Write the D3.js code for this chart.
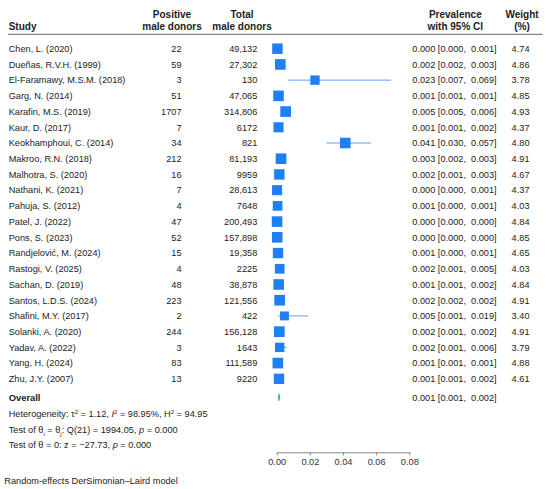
<!DOCTYPE html>
<html>
<head>
<meta charset="utf-8">
<script src="https://cdn.jsdelivr.net/npm/d3@7"></script>
<style>
  html, body { margin: 0; padding: 0; background: #fff; }
  svg { display: block; font-family: "Liberation Sans", Arial, Helvetica, sans-serif; }
  .cell { font-size: 9.2px; fill: #222; }
  .head { font-size: 10px; font-weight: bold; fill: #222; }
  .axis text { font-size: 9.2px; fill: #333; font-family: "Liberation Sans", Arial, sans-serif; }
  .axis path, .axis line { stroke: #888; }
</style>
</head>
<body>
<div id="chart"></div>
<script>
// Forest plot: prevalence among male donors

const studies = [
  "Chen, L. (2020)", "Dueñas, R.V.H. (1999)", "El-Faramawy, M.S.M. (2018)",
  "Garg, N. (2014)", "Karafin, M.S. (2019)", "Kaur, D. (2017)",
  "Keokhamphoui, C. (2014)", "Makroo, R.N. (2018)", "Malhotra, S. (2020)",
  "Nathani, K. (2021)", "Pahuja, S. (2012)", "Patel, J. (2022)",
  "Pons, S. (2023)", "Randjelović, M. (2024)", "Rastogi, V. (2025)",
  "Sachan, D. (2019)", "Santos, L.D.S. (2024)", "Shafini, M.Y. (2017)",
  "Solanki, A. (2020)", "Yadav, A. (2022)", "Yang, H. (2024)", "Zhu, J.Y. (2007)"
];
const positives = [22, 59, 3, 51, 1707, 7, 34, 212, 16, 7, 4, 47, 52, 15, 4, 48, 223, 2, 244, 3, 83, 13];
const totals = [49132, 27302, 130, 47065, 314806, 6172, 821, 81193, 9959, 28613, 7648,
  200493, 157898, 19358, 2225, 38878, 121556, 422, 156128, 1643, 111589, 9220];
const estimates = [0.00045, 0.0022, 0.0231, 0.0011, 0.0054, 0.0011, 0.0414, 0.0026, 0.0016,
  0.00024, 0.00052, 0.00023, 0.00033, 0.0008, 0.0018, 0.0012, 0.0018, 0.0047, 0.0016,
  0.0018, 0.0007, 0.0014];
const lower = [0.000, 0.002, 0.007, 0.001, 0.005, 0.001, 0.030, 0.002, 0.001, 0.000, 0.000,
  0.000, 0.000, 0.000, 0.001, 0.001, 0.002, 0.001, 0.001, 0.001, 0.001, 0.001];
const upper = [0.001, 0.003, 0.069, 0.001, 0.006, 0.002, 0.057, 0.003, 0.003, 0.001, 0.001,
  0.000, 0.000, 0.001, 0.005, 0.002, 0.002, 0.019, 0.002, 0.006, 0.001, 0.002];
const weights = [4.74, 4.86, 3.78, 4.85, 4.93, 4.37, 4.80, 4.91, 4.67, 4.37, 4.03, 4.84,
  4.85, 4.65, 4.03, 4.84, 4.91, 3.40, 4.91, 3.79, 4.88, 4.61];
const overall = { est: 0.0013, lo: 0.001, hi: 0.002 };
const xTicks = [0, 0.02, 0.04, 0.06, 0.08];

const width = 550;
const height = 489;

const svg = d3.select("#chart")
  .append("svg")
  .attr("width", width)
  .attr("height", height);

const x = d3.scaleLinear().domain([0, 0.08]).range([276.7, 409.3]);
const y = d3.scalePoint().domain(studies).range([48.7, 378.8]);
const side = d3.scaleSqrt().domain([0, 4.93]).range([0, 10.7]);

const fmt3 = d3.format(".3f");
const fmtN = (n) => (n >= 10000 ? d3.format(",")(n) : String(n));

// column positions
const colStudy = 8.7;
const colPos = 181.5;
const colTot = 257.3;
const colCI = 412.3;
const colW = 529.5;

// header
const header = svg.append("g");
[
  { t: "Positive", x: 172, y: 14, a: "middle" },
  { t: "male donors", x: 172, y: 26.7, a: "middle" },
  { t: "Total", x: 242, y: 14, a: "middle" },
  { t: "male donors", x: 242, y: 26.7, a: "middle" },
  { t: "Study", x: colStudy, y: 26.7, a: "start" },
  { t: "Prevalence", x: 455.3, y: 14, a: "middle" },
  { t: "with 95% CI", x: 455.3, y: 26.7, a: "middle" },
  { t: "Weight", x: 522, y: 14, a: "middle" },
  { t: "(%)", x: 522, y: 26.7, a: "middle" }
].forEach((h) => {
  header.append("text")
    .attr("class", "head")
    .attr("x", h.x)
    .attr("y", h.y)
    .attr("dy", "0.36em")
    .attr("text-anchor", h.a)
    .text(h.t);
});

header.append("line")
  .attr("x1", 8).attr("x2", 542.7)
  .attr("y1", 34.3).attr("y2", 34.3)
  .attr("stroke", "#666")
  .attr("stroke-width", 1);

// study rows
const rows = svg.append("g")
  .selectAll("g")
  .data(studies.map((s, i) => ({
    name: s, pos: positives[i], tot: totals[i], est: estimates[i],
    lo: lower[i], hi: upper[i], w: weights[i]
  })))
  .enter()
  .append("g")
  .attr("transform", (d) => `translate(0,${y(d.name)})`);

rows.append("text").attr("class", "cell")
  .attr("x", colStudy).attr("dy", "0.36em")
  .text((d) => d.name);

rows.append("text").attr("class", "cell")
  .attr("x", colPos).attr("dy", "0.36em").attr("text-anchor", "end")
  .text((d) => d.pos);

rows.append("text").attr("class", "cell")
  .attr("x", colTot).attr("dy", "0.36em").attr("text-anchor", "end")
  .text((d) => fmtN(d.tot));

rows.append("text").attr("class", "cell")
  .attr("x", colCI).attr("dy", "0.36em")
  .style("white-space", "pre")
  .text((d) => `${fmt3(d.est)} [${fmt3(d.lo)},  ${fmt3(d.hi)}]`);

rows.append("text").attr("class", "cell")
  .attr("x", colW).attr("dy", "0.36em").attr("text-anchor", "end")
  .text((d) => d.w.toFixed(2));

// CI lines
rows.append("line")
  .attr("x1", (d) => x(d.lo))
  .attr("x2", (d) => x(d.hi))
  .attr("stroke", "#5aa2f2")
  .attr("stroke-width", 1);

// weight squares
rows.append("rect")
  .attr("x", (d) => x(d.est) - side(d.w) / 2)
  .attr("y", (d) => -side(d.w) / 2)
  .attr("width", (d) => side(d.w))
  .attr("height", (d) => side(d.w))
  .attr("fill", "#1f80f5");

// overall row
const yOverall = 397.3;
svg.append("text").attr("class", "head")
  .attr("x", colStudy).attr("y", yOverall).attr("dy", "0.36em")
  .style("font-size", "9.4px")
  .text("Overall");

svg.append("polygon")
  .attr("points", [
    [x(overall.lo), yOverall],
    [x(overall.est), yOverall - 3.6],
    [x(overall.hi), yOverall],
    [x(overall.est), yOverall + 3.6]
  ].map((p) => p.join(",")).join(" "))
  .attr("fill", "#22b27c")
  .attr("stroke", "#22b27c")
  .attr("stroke-width", 0.6);

svg.append("text").attr("class", "cell")
  .attr("x", colCI).attr("y", yOverall).attr("dy", "0.36em")
  .style("white-space", "pre")
  .text(`${fmt3(overall.est)} [${fmt3(overall.lo)},  ${fmt3(overall.hi)}]`);

// heterogeneity statistics
const het = svg.append("text").attr("class", "cell")
  .attr("x", colStudy).attr("y", 413.7).attr("dy", "0.36em");
het.append("tspan").text("Heterogeneity: τ");
het.append("tspan").attr("baseline-shift", "super").style("font-size", "6px").text("2");
het.append("tspan").text(" = 1.12, ");
het.append("tspan").style("font-style", "italic").text("I");
het.append("tspan").attr("baseline-shift", "super").style("font-size", "6px").text("2");
het.append("tspan").text(" = 98.95%, H");
het.append("tspan").attr("baseline-shift", "super").style("font-size", "6px").text("2");
het.append("tspan").text(" = 94.95");

const q = svg.append("text").attr("class", "cell")
  .attr("x", colStudy).attr("y", 429.7).attr("dy", "0.36em");
q.append("tspan").text("Test of θ");
q.append("tspan").attr("baseline-shift", "sub").style("font-size", "6px").text("i");
q.append("tspan").text(" = θ");
q.append("tspan").attr("baseline-shift", "sub").style("font-size", "6px").text("j");
q.append("tspan").text(": Q(21) = 1994.05, ");
q.append("tspan").style("font-style", "italic").text("p");
q.append("tspan").text(" = 0.000");

const z = svg.append("text").attr("class", "cell")
  .attr("x", colStudy).attr("y", 445).attr("dy", "0.36em");
z.append("tspan").text("Test of θ = 0: z = −27.73, ");
z.append("tspan").style("font-style", "italic").text("p");
z.append("tspan").text(" = 0.000");

// x axis
svg.append("g")
  .attr("class", "axis")
  .attr("transform", "translate(0,452.3)")
  .call(d3.axisBottom(x).tickValues(xTicks).tickFormat(d3.format(".2f"))
    .tickSize(3).tickSizeOuter(0).tickPadding(3));

// footnote
svg.append("text").attr("class", "cell")
  .attr("x", 4.3).attr("y", 480.7).attr("dy", "0.36em")
  .text("Random-effects DerSimonian–Laird model");
</script>
</body>
</html>
